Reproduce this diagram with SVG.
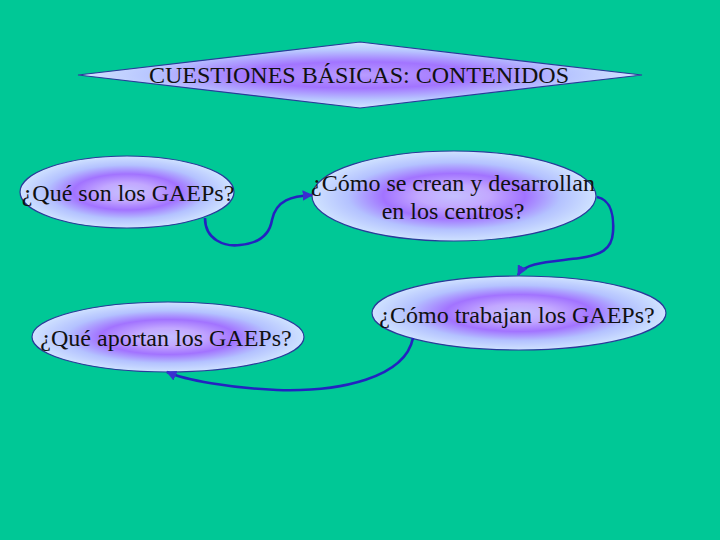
<svg xmlns="http://www.w3.org/2000/svg" width="720" height="540" viewBox="0 0 720 540">
<defs>
<radialGradient id="g" cx="50%" cy="50%" r="50%">
<stop offset="0" stop-color="#C4C0FF"/>
<stop offset="0.25" stop-color="#C2A8FF"/>
<stop offset="0.5" stop-color="#A273FF"/>
<stop offset="0.75" stop-color="#B4C2FF"/>
<stop offset="1" stop-color="#CFE2FF"/>
</radialGradient>
<radialGradient id="gd" cx="50%" cy="50%" r="50%">
<stop offset="0" stop-color="#B89CFF"/>
<stop offset="0.4" stop-color="#A274FF"/>
<stop offset="0.75" stop-color="#B8C6FF"/>
<stop offset="1" stop-color="#D2E4FF"/>
</radialGradient>
<marker id="arr" viewBox="0 0 10 10" refX="9" refY="5" markerWidth="4" markerHeight="4" orient="auto" markerUnits="strokeWidth">
<path d="M0,0 L10,5 L0,10 z" fill="#3A2ED0"/>
</marker>
<style>
.n{fill:url(#g);stroke:#2A3A9A;stroke-width:1.2}
.t{font-family:"Liberation Serif","DejaVu Serif",serif;font-size:24px;fill:#111;text-anchor:middle}
.c{fill:none;stroke:#2323C0;stroke-width:2.6;marker-end:url(#arr)}
</style>
</defs>
<rect width="720" height="540" fill="#00C896"/>
<g id="title">
<polygon points="78,75 360,42 642,75 360,108" fill="url(#gd)" stroke="#2A3A9A" stroke-width="1.2"/>
<text class="t" x="359" y="83">CUESTIONES BÁSICAS: CONTENIDOS</text>
</g>
<g id="n1">
<ellipse class="n" cx="127" cy="192" rx="107" ry="36"/>
<text class="t" x="128" y="201">¿Qué son los GAEPs?</text>
</g>
<g id="n2">
<ellipse class="n" cx="454" cy="196" rx="142" ry="45"/>
<text class="t" x="453" y="191">¿Cómo se crean y desarrollan</text>
<text class="t" x="453" y="219">en los centros?</text>
</g>
<g id="n3">
<ellipse class="n" cx="519" cy="313" rx="147" ry="37"/>
<text class="t" x="517" y="323">¿Cómo trabajan los GAEPs?</text>
</g>
<g id="n4">
<ellipse class="n" cx="168" cy="337" rx="136" ry="35"/>
<text class="t" x="166" y="346">¿Qué aportan los GAEPs?</text>
</g>
<g id="connectors">
<path class="c" d="M205,218 C205,240 225,247 240,245 C262,243 270,232 272,220 C276,200 292,196 312,195"/>
<path class="c" d="M597,197 C612,200 614,218 613,232 C612,250 600,255 580,258 C550,262 525,262 518,275"/>
<path class="c" d="M413,338 C405,378 340,392 277,390 C230,388 185,380 167,372"/>
</g>
</svg>
